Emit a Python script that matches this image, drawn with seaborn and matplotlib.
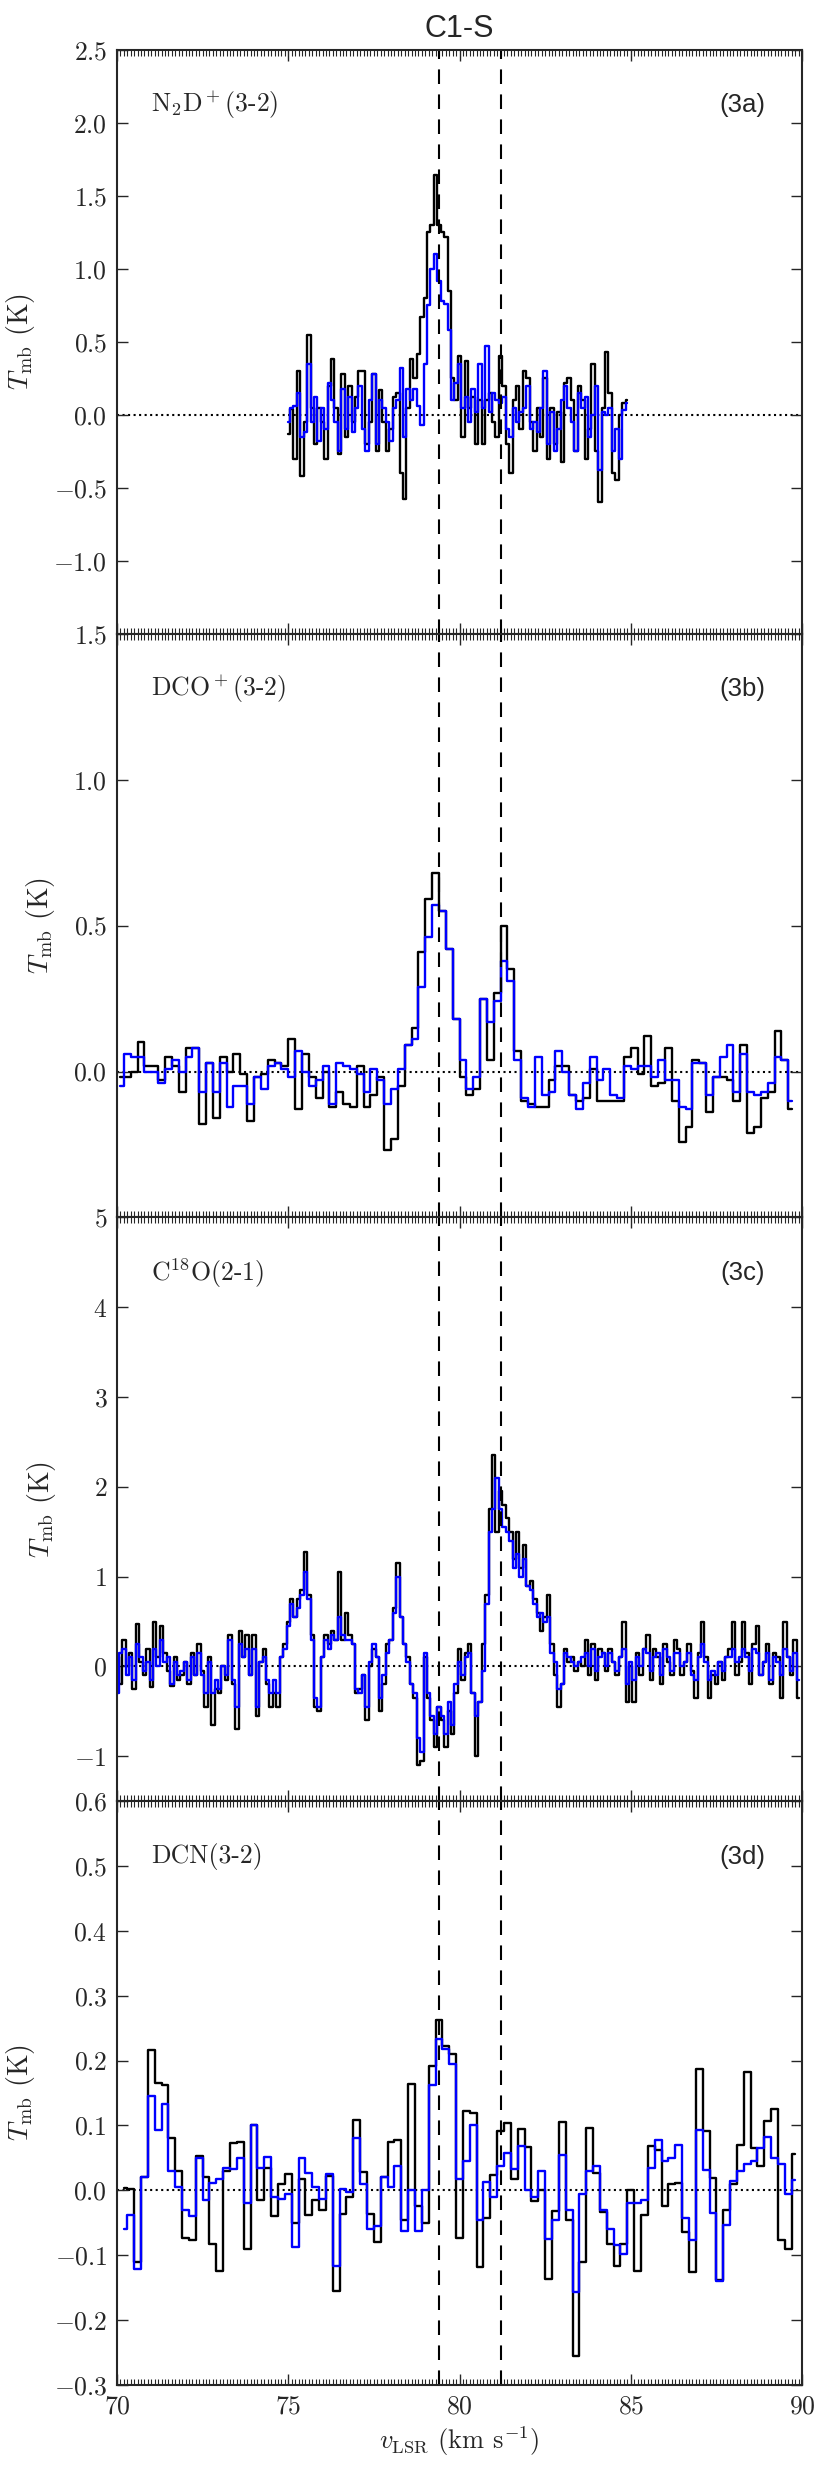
import matplotlib.pyplot as plt
import matplotlib.ticker as mticker
import numpy as np
import seaborn as sns

# channel grids (centre of first channel, channel width, number of channels)
vel_a = np.round(75.0 + 0.1 * np.arange(100), 2)
vel_b = np.round(70.1 + 0.2 * np.arange(99), 2)
vel_c = np.round(70.0 + 0.1 * np.arange(200), 2)
vel_d = np.round(70.2 + 0.2 * np.arange(99), 2)

# (3a) N2D+(3-2)
n2d_black = [-0.13, 0.04, -0.30, 0.30, -0.42, -0.05, 0.55, 0.05, -0.20, 0.05,
             -0.05, -0.30, 0.20, 0.38, 0.05, -0.27, 0.28, -0.15, 0.20, -0.05,
             0.12, 0.30, 0.30, -0.20, -0.05, 0.28, -0.25, 0.17, -0.05, -0.25,
             -0.10, 0.12, 0.15, -0.40, -0.58, 0.05, 0.38, 0.25, 0.42, 0.67,
             0.80, 1.25, 1.30, 1.64, 1.30, 1.25, 1.22, 0.85, 0.25, 0.10,
             0.40, -0.15, 0.37, 0.05, 0.12, -0.20, 0.10, -0.20, 0.10, 0.15,
             -0.05, -0.15, 0.40, 0.20, -0.20, -0.40, 0.10, 0.20, -0.10, 0.30,
             0.25, -0.05, -0.25, 0.05, -0.15, 0.25, -0.30, 0.05, -0.20, 0.02,
             -0.32, 0.22, 0.25, 0.10, -0.25, 0.20, 0.10, -0.30, -0.10, 0.35,
             -0.25, -0.60, 0.05, 0.43, 0.15, -0.40, -0.45, 0.00, 0.08, 0.10]
n2d_blue = [-0.05, 0.05, 0.06, 0.15, -0.15, -0.12, 0.35, -0.05, 0.12, -0.18,
            0.05, -0.10, 0.22, 0.10, -0.05, -0.25, 0.18, -0.10, 0.12, -0.12,
            0.05, 0.20, -0.10, -0.25, 0.10, 0.28, -0.20, 0.10, 0.05, -0.05,
            -0.18, 0.05, 0.10, 0.32, -0.15, 0.18, 0.10, 0.18, 0.06, -0.07,
            0.35, 0.75, 1.00, 1.10, 0.92, 0.78, 0.76, 0.58, 0.10, 0.22,
            0.35, 0.05, 0.12, -0.05, 0.18, 0.02, 0.35, 0.05, 0.47, 0.02,
            0.15, 0.10, 0.08, 0.12, -0.10, -0.15, 0.05, -0.05, 0.02, 0.05,
            0.20, -0.10, -0.05, -0.12, 0.05, 0.30, -0.20, 0.02, -0.25, -0.10,
            0.10, 0.20, 0.05, -0.05, -0.25, 0.15, 0.05, 0.12, -0.15, 0.00,
            0.20, -0.38, 0.02, 0.00, 0.05, -0.25, -0.10, -0.30, 0.03, 0.08]

# (3b) DCO+(3-2)
dco_black = [-0.02, -0.02, 0.00, 0.10, 0.02, 0.02, -0.03, 0.05, 0.02, -0.07,
             0.08, 0.08, -0.18, 0.03, -0.16, 0.05, 0.00, 0.06, -0.01, -0.17,
             -0.02, -0.01, 0.04, 0.03, 0.02, 0.11, -0.13, 0.06, -0.02, -0.09,
             0.00, -0.12, -0.07, -0.11, -0.12, 0.02, -0.12, -0.08, -0.02, -0.27,
             -0.23, -0.05, 0.09, 0.15, 0.41, 0.59, 0.68, 0.55, 0.42, 0.18,
             -0.02, -0.08, -0.06, 0.25, 0.04, 0.27, 0.50, 0.35, 0.07, -0.10,
             -0.11, -0.12, -0.12, -0.03, 0.02, 0.02, -0.08, -0.10, -0.09, 0.01,
             -0.10, -0.10, -0.10, -0.10, 0.05, 0.08, -0.01, 0.12, -0.05, -0.04,
             0.08, -0.10, -0.24, -0.19, 0.04, 0.03, -0.14, -0.02, -0.02, -0.03,
             -0.10, 0.09, -0.21, -0.19, -0.09, -0.07, 0.14, 0.04, -0.13]
dco_blue = [-0.05, 0.06, 0.05, 0.05, 0.00, 0.00, -0.04, 0.01, 0.04, 0.00,
            0.05, 0.08, -0.07, 0.03, -0.07, 0.03, -0.12, -0.05, -0.05, -0.11,
            -0.02, -0.06, 0.02, 0.03, 0.01, -0.02, 0.07, 0.00, -0.05, -0.03,
            0.02, -0.11, 0.03, 0.02, 0.01, -0.01, -0.07, 0.01, -0.03, -0.11,
            -0.06, 0.01, 0.09, 0.11, 0.29, 0.46, 0.57, 0.55, 0.42, 0.18,
            0.04, -0.06, -0.02, 0.25, 0.17, 0.24, 0.38, 0.31, 0.04, -0.09,
            -0.12, 0.05, -0.08, -0.07, 0.07, 0.00, -0.08, -0.13, -0.04, 0.05,
            -0.03, 0.01, -0.08, -0.09, 0.02, 0.01, 0.02, 0.02, -0.02, 0.04,
            -0.03, -0.03, -0.12, -0.13, 0.03, 0.03, -0.08, -0.02, 0.05, 0.09,
            -0.07, 0.06, -0.07, -0.08, -0.07, -0.04, 0.05, 0.04, -0.10]

# (3c) C18O(2-1)
c18o_black = [0.10, -0.20, 0.30, 0.00, 0.15, -0.25, 0.47, 0.05, -0.10, 0.20,
              -0.23, 0.49, 0.10, 0.45, 0.15, -0.05, -0.22, 0.10, -0.15, -0.10,
              0.05, -0.20, 0.15, -0.10, 0.25, -0.05, -0.45, 0.10, -0.65, -0.25,
              -0.30, 0.00, -0.15, 0.35, -0.20, -0.70, 0.40, 0.10, 0.35, -0.10,
              0.35, -0.55, 0.05, 0.20, -0.20, -0.45, -0.30, -0.45, 0.10, 0.25,
              0.50, 0.75, 0.55, 0.75, 0.85, 1.28, 0.80, 0.35, -0.45, -0.50,
              0.10, 0.35, 0.25, 0.40, 0.30, 1.05, 0.30, 0.60, 0.35, 0.25,
              -0.30, -0.25, -0.10, -0.60, 0.00, 0.20, 0.10, -0.50, -0.20, 0.25,
              0.30, 0.65, 1.15, 0.55, 0.25, 0.10, -0.20, -0.35, -1.10, -1.05,
              0.10, -0.35, -0.60, -0.90, -0.45, -0.60, -0.90, -0.50, -0.75, -0.30,
              0.20, -0.15, 0.15, 0.25, -0.30, -1.00, -0.40, 0.25, 0.80, 1.75,
              2.35, 1.50, 1.95, 1.80, 1.65, 1.50, 1.20, 1.50, 1.10, 1.35,
              0.90, 0.95, 0.75, 0.60, 0.40, 0.55, 0.80, 0.25, -0.10, -0.45,
              -0.20, 0.20, 0.05, 0.10, -0.05, 0.05, 0.00, 0.30, -0.10, 0.25,
              -0.15, 0.20, 0.15, -0.05, 0.20, 0.05, -0.10, 0.10, 0.50, -0.40,
              0.00, -0.40, 0.15, -0.10, 0.20, 0.35, -0.15, 0.20, 0.10, -0.20,
              0.25, 0.05, -0.10, 0.30, 0.20, -0.10, 0.05, 0.25, -0.05, -0.35,
              0.15, 0.50, 0.10, -0.35, -0.10, -0.20, 0.05, -0.15, 0.10, 0.20,
              0.50, -0.10, 0.05, 0.50, 0.15, -0.20, 0.25, 0.45, -0.10, 0.05,
              0.25, -0.20, 0.15, 0.10, -0.35, 0.50, 0.10, -0.10, 0.30, -0.35]
c18o_blue = [-0.30, 0.15, 0.20, -0.10, 0.10, -0.15, 0.25, 0.10, -0.05, 0.05,
             -0.15, 0.20, 0.00, 0.30, 0.05, 0.10, -0.20, 0.05, -0.10, -0.05,
             0.05, -0.15, 0.10, -0.10, 0.15, -0.10, -0.30, 0.05, -0.30, -0.15,
             -0.25, 0.00, -0.10, 0.30, -0.15, -0.45, 0.25, 0.10, 0.20, -0.10,
             0.20, -0.45, 0.05, 0.10, -0.15, -0.30, -0.15, -0.30, 0.10, 0.20,
             0.45, 0.70, 0.55, 0.65, 0.80, 1.05, 0.75, 0.30, -0.35, -0.45,
             0.10, 0.30, 0.20, 0.35, 0.30, 0.55, 0.35, 0.30, 0.30, 0.25,
             -0.25, -0.30, -0.10, -0.45, 0.05, 0.25, 0.10, -0.35, -0.10, 0.15,
             0.30, 0.60, 1.00, 0.55, 0.25, 0.05, -0.20, -0.30, -0.80, -0.95,
             0.15, -0.30, -0.55, -0.75, -0.45, -0.55, -0.75, -0.40, -0.65, -0.20,
             0.05, -0.10, 0.10, 0.15, -0.30, -0.55, -0.40, -0.05, 0.70, 1.50,
             1.75, 2.10, 1.75, 1.55, 1.50, 1.40, 1.10, 1.25, 1.00, 1.20,
             0.90, 0.85, 0.70, 0.55, 0.60, 0.50, 0.55, 0.15, 0.05, -0.25,
             -0.20, 0.15, 0.10, 0.05, 0.00, 0.05, 0.10, 0.15, 0.00, 0.20,
             -0.05, 0.10, 0.15, 0.00, 0.15, 0.05, -0.05, 0.10, 0.20, -0.20,
             0.05, -0.15, 0.10, 0.00, 0.20, 0.15, -0.05, 0.10, 0.15, -0.10,
             0.20, 0.10, -0.05, 0.15, 0.15, 0.00, 0.05, 0.15, -0.10, -0.15,
             0.10, 0.25, 0.05, -0.15, -0.05, -0.10, 0.05, -0.05, 0.10, 0.10,
             0.20, 0.05, 0.10, 0.20, 0.10, -0.05, 0.20, 0.15, -0.10, 0.05,
             0.15, -0.15, 0.10, 0.05, -0.10, 0.20, 0.10, -0.05, 0.15, -0.15]

# (3d) DCN(3-2)
dcn_black = [0.003, 0.002, -0.110, 0.020, 0.216, 0.165, 0.162, 0.080, 0.030, -0.073,
             -0.077, 0.053, 0.020, -0.083, -0.124, 0.030, 0.073, 0.074, -0.090, 0.100,
             -0.015, 0.035, -0.040, 0.010, 0.025, -0.050, 0.018, -0.038, -0.015, -0.030,
             0.022, -0.155, -0.036, -0.010, 0.108, 0.028, -0.037, -0.080, 0.021, 0.075,
             0.077, -0.045, 0.164, -0.024, -0.050, 0.192, 0.263, 0.222, 0.210, -0.073,
             0.123, 0.120, -0.118, -0.043, 0.024, 0.092, 0.104, 0.017, 0.095, 0.067,
             -0.017, 0.000, -0.136, -0.032, 0.106, -0.046, -0.256, -0.111, 0.096, 0.027,
             -0.033, -0.083, -0.116, -0.082, 0.000, -0.124, -0.038, 0.069, 0.062, -0.024,
             0.010, 0.012, -0.064, -0.126, 0.187, 0.091, 0.019, -0.138, -0.030, 0.010,
             0.070, 0.183, 0.066, 0.037, 0.107, 0.126, -0.076, -0.090, 0.056]
dcn_blue = [-0.060, -0.038, -0.122, 0.020, 0.146, 0.093, 0.133, 0.030, 0.005, -0.030,
            -0.040, 0.050, -0.015, 0.012, 0.017, 0.035, 0.033, 0.050, -0.020, 0.100,
            0.035, 0.052, -0.010, -0.013, -0.005, -0.087, 0.050, 0.027, 0.005, -0.013,
            0.025, -0.117, 0.002, -0.003, 0.080, 0.010, -0.060, -0.055, 0.020, 0.005,
            0.038, -0.062, 0.000, -0.062, 0.000, 0.163, 0.234, 0.218, 0.195, 0.017,
            0.045, 0.100, -0.045, 0.013, -0.010, 0.037, 0.057, 0.033, 0.068, 0.000,
            -0.010, 0.030, -0.075, -0.045, 0.055, -0.030, -0.157, -0.005, 0.030, 0.037,
            -0.030, -0.060, -0.085, -0.098, -0.020, -0.020, -0.015, 0.035, 0.077, 0.045,
            0.050, 0.070, -0.042, -0.077, 0.093, 0.032, -0.035, -0.140, -0.053, 0.015,
            0.030, 0.040, 0.045, 0.065, 0.082, 0.050, 0.040, -0.005, 0.016]

lines = ["N$_2$D$^+$(3-2)", "DCO$^+$(3-2)", "C$^{18}$O(2-1)", "DCN(3-2)"]
tags = ["(3a)", "(3b)", "(3c)", "(3d)"]
ylims = [(-1.5, 2.5), (-0.5, 1.5), (-1.5, 5.0), (-0.3, 0.6)]
yticks = [np.arange(-1.5, 2.51, 0.5), np.arange(-0.5, 1.51, 0.5),
          np.arange(-1, 5.1, 1), np.arange(-0.3, 0.61, 0.1)]
vlines = [79.4, 81.2]

panels = [(vel_a, n2d_black, n2d_blue), (vel_b, dco_black, dco_blue),
          (vel_c, c18o_black, c18o_blue), (vel_d, dcn_black, dcn_blue)]

sns.set_style("ticks")
plt.rcParams['font.family'] = 'serif'
plt.rcParams['font.serif'] = ['cmr10', 'DejaVu Serif']
plt.rcParams['mathtext.fontset'] = 'cm'
plt.rcParams['axes.unicode_minus'] = True

fig, axes = plt.subplots(4, 1, figsize=(8.31, 24.75), dpi=100, sharex=True)
fig.subplots_adjust(left=0.1408, right=0.9651, top=0.9798, bottom=0.0364, hspace=0)

for n, ax in enumerate(axes):
    vel, blk, blu = panels[n]
    sns.lineplot(x=vel, y=blk, ax=ax, color="black", lw=1.7, drawstyle="steps-mid",
                 estimator=None, sort=False)
    sns.lineplot(x=vel, y=blu, ax=ax, color="blue", lw=1.7, drawstyle="steps-mid",
                 estimator=None, sort=False)
    ax.axhline(0, color="black", ls=":", lw=1.5, zorder=0)
    for v in vlines:
        ax.axvline(v, color="black", ls=(0, (7, 5)), lw=1.5)

    ax.set_xlim(70, 90)
    ax.set_ylim(*ylims[n])
    tk = yticks[n]
    ax.set_yticks(tk)
    if n == 2:
        labs = ["$%d$" % round(t) for t in tk]
    else:
        labs = ["$%.1f$" % t for t in tk]
    if n < 3 and ylims[n][0] == tk[0]:
        labs[0] = ""
    ax.set_yticklabels(labs)

    ax.xaxis.set_major_locator(mticker.MultipleLocator(5))
    ax.xaxis.set_minor_locator(mticker.MultipleLocator(0.1))
    ax.tick_params(which="both", direction="in", top=True, right=True,
                   labelsize=18.5, pad=7)
    ax.tick_params(which="major", length=8, width=1)
    ax.tick_params(which="minor", length=4, width=0.8)
    for sp in ax.spines.values():
        sp.set_linewidth(1.5)

    ax.set_ylabel(r"$T_{\rm mb}$ (K)", fontsize=20, labelpad=12)
    ax.text(0.05, 0.905, lines[n], transform=ax.transAxes, fontsize=18.5,
            ha="left", va="center")
    ax.text(0.913, 0.905, tags[n], transform=ax.transAxes, fontsize=18.5,
            ha="center", va="center", family="Liberation Sans")

axes[0].set_title("C1-S", fontsize=22, family="Liberation Sans", pad=9)
axes[-1].set_xticks([70, 75, 80, 85, 90])
axes[-1].set_xticklabels(["$70$", "$75$", "$80$", "$85$", "$90$"])
axes[-1].set_xlabel(r"$v_{\rm LSR}$ (km s$^{-1}$)", fontsize=19)

fig.savefig("out.png", dpi=100)
